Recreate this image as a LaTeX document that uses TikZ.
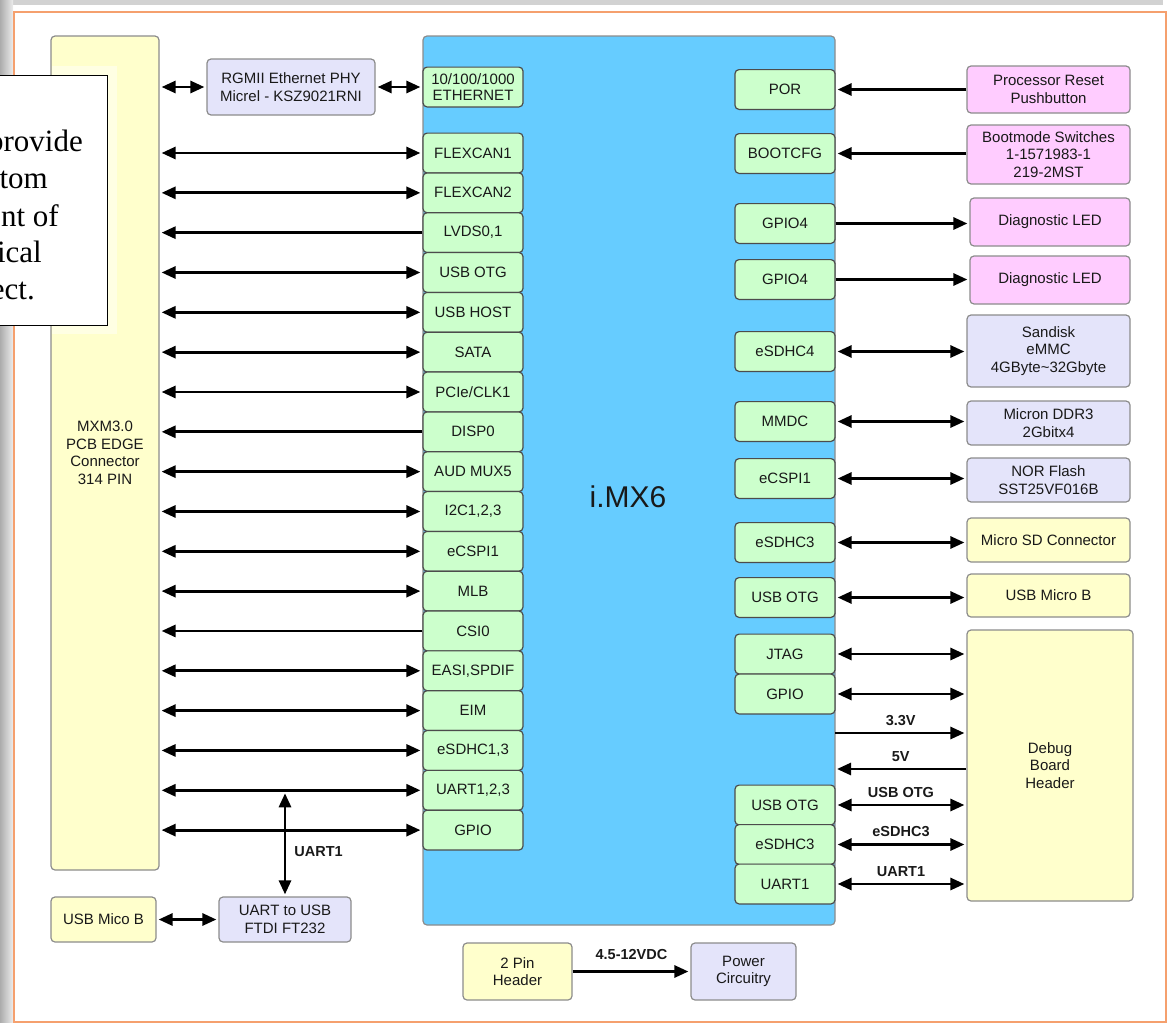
\documentclass[tikz,border=0pt]{standalone}
\usepackage{fontspec}
\setmainfont{Liberation Sans}
\newfontfamily\notefont{Liberation Serif}
\usetikzlibrary{arrows.meta}

\definecolor{chipblue}{HTML}{66CCFF}
\definecolor{ifgreen}{HTML}{CCFFCC}
\definecolor{partyellow}{HTML}{FFFFCC}
\definecolor{partlav}{HTML}{E4E4FA}
\definecolor{partpink}{HTML}{FFCCFF}
\definecolor{frameorange}{HTML}{F5A06E}
\definecolor{boxgray}{HTML}{8C8C8C}

\begin{document}
\begin{tikzpicture}[x=1pt, y=-1pt,
    lbl/.style={font=\fontsize{15}{17.5}\selectfont, text=black!90, align=center, inner sep=0pt},
    part/.style={lbl, draw=boxgray, line width=1.2pt, rounded corners=4pt},
    iface/.style={lbl, draw=black!70, fill=ifgreen, line width=1.2pt, rounded corners=4pt,
                  minimum width=100pt, minimum height=39.8pt, font=\fontsize{15}{16}\selectfont},
    bus/.style={line width=2.8pt, draw=black, shorten <=2pt, shorten >=2pt},
    biarrow/.style={bus, {Triangle[length=14pt,width=12pt]}-{Triangle[length=14pt,width=12pt]}},
    uniarrow/.style={bus, shorten <=0pt, -{Triangle[length=14pt,width=12pt]}},
    buslabel/.style={font=\bfseries\fontsize{14.5}{16}\selectfont, text=black!90, inner sep=1pt}
]

    % Fix the page size and clip to it
    \useasboundingbox (0,0) rectangle (1171,1023);
    \clip (0,0) rectangle (1171,1023);

    % Page shadow and orange frame
    \fill[gray!35] (0,0) rectangle (1163,5);
    \shade[left color=gray!65, right color=gray!15] (0,0) rectangle (13,1023);
    \draw[frameorange, line width=1.5pt] (14,12) rectangle (1166,1022);

    % Edge connector on the left
    \node[part, fill=partyellow, minimum width=108pt, minimum height=834pt] (mxm) at (105,453)
        {MXM3.0\\PCB EDGE\\Connector\\314 PIN};

    % Ethernet PHY
    \node[part, fill=partlav, minimum width=168pt, minimum height=56pt] (phy) at (291,87)
        {RGMII Ethernet PHY\\Micrel - KSZ9021RNI};

    % The processor
    \node[draw=boxgray, fill=chipblue, line width=1.2pt, rounded corners=4pt,
          minimum width=412pt, minimum height=889pt, inner sep=0pt] (imx) at (629,480.5) {};
    \node[font=\fontsize{30}{30}\selectfont, text=black!90, inner sep=0pt] (imxlabel) at (628,497) {i.MX6};

    % Interfaces on the left side of the processor
    \node[iface] (eth) at (473,87) {10/100/1000\\ETHERNET};
    \draw[biarrow] (mxm.east |- phy.west) -- (phy.west);
    \draw[biarrow] (phy.east) -- (phy.east -| eth.west);

    \foreach \i/\txt/\dir in {1/FLEXCAN1/biarrow, 2/FLEXCAN2/biarrow, 3/{LVDS0,1}/uniarrow,
        4/USB OTG/biarrow, 5/USB HOST/biarrow, 6/SATA/biarrow, 7/PCIe\slash CLK1/biarrow,
        8/DISP0/uniarrow, 9/AUD MUX5/biarrow, 10/{I2C1,2,3}/biarrow, 11/eCSPI1/biarrow,
        12/MLB/biarrow, 13/CSI0/uniarrow, 14/{EASI,SPDIF}/biarrow, 15/EIM/biarrow,
        16/{eSDHC1,3}/biarrow, 17/{UART1,2,3}/biarrow, 18/GPIO/biarrow} {
        \node[iface] (l\i) at (473,{153+(\i-1)*39.83}) {\txt};
        \draw[\dir] (l\i.west) -- (mxm.east |- l\i.west);
    }

    % Interfaces on the right side of the processor
    \node[iface] (por) at (785,89.5) {POR};
    \node[iface] (boot) at (785,153.5) {BOOTCFG};
    \node[iface] (gpa) at (785,223.5) {GPIO4};
    \node[iface] (gpb) at (785,279.5) {GPIO4};
    \node[iface] (sdfour) at (785,351.5) {eSDHC4};
    \node[iface] (mmdc) at (785,421.5) {MMDC};
    \node[iface] (ecspi) at (785,478.5) {eCSPI1};
    \node[iface] (sdthree) at (785,542.5) {eSDHC3};
    \node[iface] (otg) at (785,597.5) {USB OTG};
    \node[iface] (jtag) at (785,654) {JTAG};
    \node[iface] (gpio) at (785,694) {GPIO};
    \node[iface] (dotg) at (785,805) {USB OTG};
    \node[iface] (dsd) at (785,844.5) {eSDHC3};
    \node[iface] (duart) at (785,884) {UART1};

    % Parts on the right
    \node[part, fill=partpink, minimum width=163pt, minimum height=47pt] (reset) at (1048.5,89.5)
        {Processor Reset\\Pushbutton};
    \node[part, fill=partpink, minimum width=163pt, minimum height=59pt] (bootsw) at (1048.5,154.5)
        {Bootmode Switches\\1-1571983-1\\219-2MST};
    \node[part, fill=partpink, minimum width=160pt, minimum height=48pt] (leda) at (1050,222)
        {Diagnostic LED};
    \node[part, fill=partpink, minimum width=160pt, minimum height=48pt] (ledb) at (1050,280)
        {Diagnostic LED};
    \node[part, fill=partlav, minimum width=163pt, minimum height=72pt] (emmc) at (1048.5,351)
        {Sandisk\\eMMC\\4GByte\textasciitilde 32Gbyte};
    \node[part, fill=partlav, minimum width=163pt, minimum height=44pt] (ddr) at (1048.5,423)
        {Micron DDR3\\2Gbitx4};
    \node[part, fill=partlav, minimum width=163pt, minimum height=44pt] (nor) at (1048.5,480)
        {NOR Flash\\SST25VF016B};
    \node[part, fill=partyellow, minimum width=163pt, minimum height=44pt] (sdconn) at (1048.5,540)
        {Micro SD Connector};
    \node[part, fill=partyellow, minimum width=163pt, minimum height=43pt] (usbb) at (1048.5,595.5)
        {USB Micro B};
    \node[part, fill=partyellow, minimum width=166pt, minimum height=271pt] (debug) at (1050,765.5)
        {Debug\\Board\\Header};

    % Connections on the right
    \draw[uniarrow] (reset.west |- por.east) -- (por.east);
    \draw[uniarrow] (bootsw.west |- boot.east) -- (boot.east);
    \draw[uniarrow] (gpa.east) -- (gpa.east -| leda.west);
    \draw[uniarrow] (gpb.east) -- (gpb.east -| ledb.west);
    \draw[biarrow] (sdfour.east) -- (sdfour.east -| emmc.west);
    \draw[biarrow] (mmdc.east) -- (mmdc.east -| ddr.west);
    \draw[biarrow] (ecspi.east) -- (ecspi.east -| nor.west);
    \draw[biarrow] (sdthree.east) -- (sdthree.east -| sdconn.west);
    \draw[biarrow] (otg.east) -- (otg.east -| usbb.west);
    \draw[biarrow] (jtag.east) -- (jtag.east -| debug.west);
    \draw[biarrow] (gpio.east) -- (gpio.east -| debug.west);

    % Supply lines to the debug header
    \coordinate (vthree) at (835,733);
    \coordinate (vfive) at (835,769);
    \draw[uniarrow] (vthree) -- (vthree -| debug.west)
        node[midway, above=5pt, buslabel] (vthreelbl) {3.3V};
    \draw[uniarrow] (vfive -| debug.west) -- (vfive)
        node[midway, above=5pt, buslabel] (vfivelbl) {5V};
    \draw[biarrow] (dotg.east) -- (dotg.east -| debug.west)
        node[midway, above=5pt, buslabel] (dotglbl) {USB OTG};
    \draw[biarrow] (dsd.east) -- (dsd.east -| debug.west)
        node[midway, above=5pt, buslabel] (dsdlbl) {eSDHC3};
    \draw[biarrow] (duart.east) -- (duart.east -| debug.west)
        node[midway, above=5pt, buslabel] (duartlbl) {UART1};

    % Debug UART on the bottom left
    \node[part, fill=partyellow, minimum width=105pt, minimum height=45pt] (usbmico) at (103.5,919.5)
        {USB Mico B};
    \node[part, fill=partlav, minimum width=132pt, minimum height=45pt] (uartusb) at (285,919.5)
        {UART to USB\\FTDI FT232};
    \draw[biarrow] (usbmico.east) -- (uartusb.west);
    \draw[biarrow, shorten >=3pt] (uartusb.north) -- (uartusb.north |- l17)
        node[pos=0.42, right=7pt, buslabel] (uartlbl) {UART1};

    % Power input
    \node[part, fill=partyellow, minimum width=109pt, minimum height=57pt] (pinhdr) at (517.5,971.5)
        {2 Pin\\Header};
    \node[part, fill=partlav, minimum width=105pt, minimum height=57pt] (power) at (743.5,971.5)
        {Power\\Circuitry};
    \draw[uniarrow] (pinhdr.east) -- (power.west)
        node[midway, above=9pt, buslabel] (vinlbl) {4.5-12VDC};

    % Text box cut off by the left edge
    \fill[white, opacity=0.45] (52,66) rectangle (117,334);
    \node[draw=black, fill=white, line width=1pt, minimum width=120pt, minimum height=250pt,
          inner sep=0pt] (note) at (47,200) {};
    \foreach \txt/\xr/\yb [count=\k] in {provide/83/151, tom/48/188, nt of/59/226, ical/42/262, ect./35/299} {
        \node[anchor=base east, inner sep=0pt, font=\notefont\fontsize{31}{37}\selectfont] (notel\k) at (\xr,\yb) {\txt};
    }

\end{tikzpicture}
\end{document}
